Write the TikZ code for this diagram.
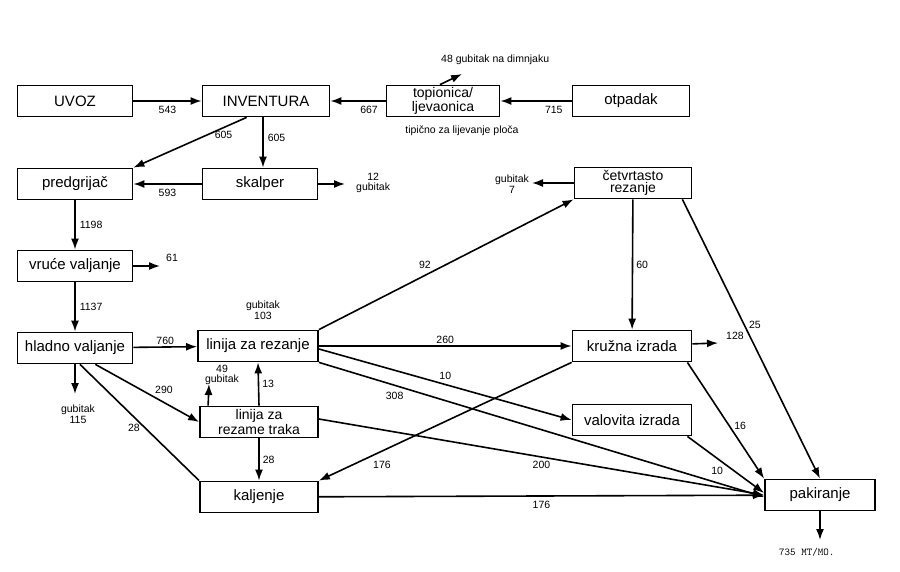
\documentclass[tikz,border=0pt]{standalone}
\usepackage{fontspec}
\setmainfont{Liberation Sans}
\usetikzlibrary{arrows.meta,calc}
\begin{document}
\begin{tikzpicture}[x=1pt,y=-1pt,
 box/.style={draw,line width=1.8pt,minimum height=31pt,inner sep=1pt,font=\fontsize{15}{14}\selectfont,align=center},
 tbox/.style={box,font=\fontsize{14}{12.5}\selectfont},
 ar/.style={line width=1.6pt,-{Latex[length=11pt,width=8pt]}},
 ln/.style={line width=1.6pt},
 lb/.style={font=\fontsize{10.5}{10.5}\selectfont,align=center,inner sep=1pt}]
\useasboundingbox (0,0) rectangle (900,572);
\node[box,minimum width=115pt] (uvoz) at (75,101) {UVOZ};
\node[box,minimum width=127pt] (inv) at (266,101) {INVENTURA};
\node[tbox,minimum width=113pt] (top) at (443,101) {topionica/\\ljevaonica};
\node[box,minimum width=117pt] (otp) at (631,101) {otpadak};
\node[box,minimum width=115pt] (pre) at (75,184) {predgrijač};
\node[box,minimum width=115pt] (ska) at (260,184) {skalper};
\node[tbox,minimum width=117pt] (cet) at (633,183) {četvrtasto\\rezanje};
\node[box,minimum width=115pt] (vru) at (75,266) {vruće valjanje};
\node[box,minimum width=115pt] (hla) at (75,348) {hladno valjanje};
\node[box,minimum width=120pt] (lr) at (258,346) {linija za rezanje};
\node[box,minimum width=119pt] (kru) at (632,346) {kružna izrada};
\node[tbox,minimum width=118pt] (lt) at (259,422) {linija za\\rezame traka};
\node[box,minimum width=119pt] (val) at (632,420) {valovita izrada};
\node[box,minimum width=118pt] (kal) at (259,497) {kaljenje};
\node[box,minimum width=110pt] (pak) at (820,495) {pakiranje};
\coordinate (dim) at (462,74);
\coordinate (g12) at (345,184);
\coordinate (g61) at (160,266);
\coordinate (g115) at (75,394);
\coordinate (g49) at (209,384);
\coordinate (g7) at (532,183);
\coordinate (g128) at (718,343);
\coordinate (g735) at (820,540);
\draw[ar] (uvoz) -- node[lb,below=3pt]{543} (inv);
\draw[ar] (top) -- node[lb,below=3pt,pos=0.3]{667} (inv);
\draw[ar] (otp) -- node[lb,below=3pt,pos=0.25]{715} (top);
\draw[ar] (top.north) ++(-3,0) -- (dim);
\node[lb,anchor=west] (t48) at (440,60) {48 gubitak na dimnjaku};
\node[lb] (tip) at (462,131) {tipično za lijevanje ploča};
\draw[ar] (inv.south west)++(45,0) -- node[lb,pos=0.35,right=6pt]{605} (pre.north east);
\draw[ar] (inv.south) ++(-3,0) -- node[lb,right=3pt,pos=0.4]{605} (ska.north-|263,0);
\draw[ar] (ska) -- node[lb,below=3pt]{593} (pre);
\draw[ar] (ska) -- (g12);
\node[lb,anchor=west] (t12) at (355,183) {12\\gubitak};
\draw[ar] (pre) -- node[lb,right=3pt]{1198} (vru);
\draw[ar] (vru) -- (g61);
\node[lb] (t61) at (172,258) {61};
\draw[ar] (vru) -- node[lb,right=3pt]{1137} (hla);
\draw[ar] (hla) -- node[lb,above=1pt]{760} (lr);
\draw[ar] (hla.south) -- (g115);
\node[lb] (t115) at (78,414) {gubitak\\115};
\draw[ar] (hla.south east)++(-38,0) -- node[lb,pos=0.55,above right=1pt]{290} (lt.west);
\draw[ln] (hla.south)++(5,0) -- node[lb,pos=0.55,left=4pt]{28} (kal.north west);
\draw[ar] (lt.north) -- node[lb,right=2pt]{13} (lr.south);
\draw[ar] (lt.north west)++(9,0) -- (g49);
\node[lb] (t49) at (222,375) {49\\gubitak};
\node[lb] (t103) at (263,310) {gubitak\\103};
\draw[ar] (lr.north east) -- node[lb,pos=0.45,above left=1pt]{92} (cet.south west);
\draw[ar] (lr) -- node[lb,above=1pt,pos=0.5]{260} (kru);
\draw[ar] (lr.east)++(0,3) -- node[lb,pos=0.5,above=3pt]{10} (val.west);
\draw[ar] (lr.south east) -- node[lb,pos=0.17,below=5pt]{308} ($(pak.west)+(0,2)$);
\draw[ar] (lt.east)++(0,-3) -- node[lb,pos=0.5,below=2pt]{200} (pak.west);
\draw[ar] (lt.south) -- node[lb,right=2pt]{28} (kal.north);
\draw[ar] (kru.south west) -- node[lb,pos=0.8,below right=2pt]{176} (kal.north east);
\draw[ar] (kal) -- node[lb,below=3pt]{176} (pak);
\draw[ar] (cet) -- node[lb,right=2pt]{60} (kru);
\draw[ar] (cet.south east)++(-10,0) -- node[lb,right=3pt,pos=0.45]{25} (pak.north);
\draw[ar] (cet) -- (g7);
\node[lb] (t7) at (512,184) {gubitak\\7};
\draw[ar] (kru) -- (g128);
\node[lb] (t128) at (735,336) {128};
\draw[ar] (kru.south east)++(-5,0) -- node[lb,pos=0.55,right=3pt]{16} (pak.north west);
\draw[ar] (val.south east)++(-5,0) -- node[lb,pos=0.5,below left=1pt]{10} ($(pak.west)+(0,-2)$);
\draw[ar] (pak) -- (g735);
\node[lb,font=\ttfamily\fontsize{10.5}{10.5}\selectfont,anchor=west] (t735) at (778,552) {735 MT/MO.};
\end{tikzpicture}
\end{document}
